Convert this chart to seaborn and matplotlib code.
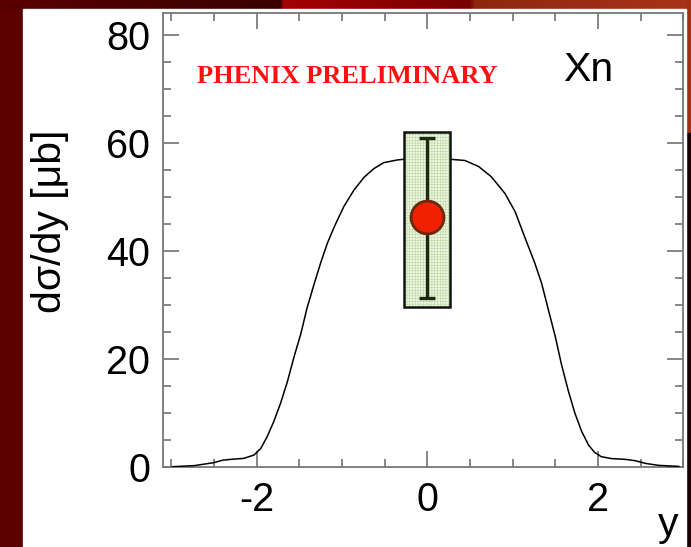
import numpy as np
import pandas as pd
import matplotlib
matplotlib.use("Agg")
import matplotlib.pyplot as plt
from matplotlib.patches import Rectangle
from matplotlib.ticker import MultipleLocator
import seaborn as sns

# Model curve: dsigma/dy versus rapidity y
curve_y = [-2.99, -2.73, -2.50, -2.40, -2.30, -2.15, -2.03, -1.95, -1.875, -1.80,
           -1.72, -1.64, -1.56, -1.48, -1.41, -1.33, -1.25, -1.17, -1.09, -0.98,
           -0.86, -0.74, -0.625, -0.51, -0.35, -0.23, -0.04, 0.05, 0.21, 0.44,
           0.60, 0.75, 0.91, 1.03, 1.14, 1.26, 1.34, 1.42, 1.50, 1.57,
           1.65, 1.73, 1.81, 1.89, 1.96, 2.04, 2.16, 2.32, 2.44, 2.56,
           2.71, 2.95]
curve_val = [0.0, 0.2, 0.75, 1.2, 1.36, 1.54, 2.16, 3.4, 5.6, 8.3,
             11.7, 15.7, 20.4, 24.7, 29.3, 33.6, 37.7, 41.4, 44.4, 48.1,
             51.2, 53.6, 55.2, 56.3, 56.8, 57.0, 57.2, 57.2, 57.0, 56.7,
             55.6, 53.7, 50.6, 47.2, 42.6, 37.7, 33.95, 29.0, 24.1, 19.1,
             14.2, 9.9, 6.5, 4.0, 2.65, 1.85, 1.5, 1.36, 1.1, 0.6,
             0.25, 0.05]

# Measured point at midrapidity
meas_y = [0.0]
meas_val = [46.3]
stat_lo = [31.2]
stat_hi = [60.8]
sys_lo = [29.6]
sys_hi = [61.9]
sys_halfwidth = [0.27]

x_ticks = [-2, 0, 2]
y_ticks = [0, 20, 40, 60, 80]

sns.set_theme(style="ticks")
plt.rcParams["font.family"] = ["Liberation Sans", "DejaVu Sans"]
plt.rcParams["hatch.linewidth"] = 0.35
plt.rcParams["axes.unicode_minus"] = False

W, H = 691, 547
fig = plt.figure(figsize=(W / 100, H / 100), dpi=100)

# Slide-style backdrop
bg = fig.add_axes([0, 0, 1, 1], zorder=-10)
bg.set_xlim(0, W)
bg.set_ylim(H, 0)
bg.axis("off")
bg.add_patch(Rectangle((0, 0), W, H, color="#5e0000"))
grad_x = np.array([0, 280, 283, 300, 460, 468, 475, 691])
grad_c = np.array([[0x5a, 0, 0], [0x3a, 0, 0], [0xa3, 0x02, 0x02], [0xa0, 0x02, 0x02],
                   [0x7a, 0x00, 0x00], [0x7a, 0x00, 0x00], [0x8e, 0x26, 0x10],
                   [0xa8, 0x34, 0x18]]) / 255.0
xs = np.arange(W)
strip = np.stack([np.interp(xs, grad_x, grad_c[:, k]) for k in range(3)], axis=-1)
bg.imshow(strip[None, :, :], extent=(0, W, 10, 0), aspect="auto", zorder=1)
bg.add_patch(Rectangle((686, 0), 5, 133, color="#a03010", zorder=2))
bg.add_patch(Rectangle((686, 133), 5, H - 133, color="#1a0000", zorder=2))
bg.add_patch(Rectangle((23, 9), 663, H - 9, color="white", zorder=3))

ax = fig.add_axes([162.7 / W, 1 - 466.7 / H, 520.6 / W, 454.2 / H])
ax.set_facecolor("white")

df_curve = pd.DataFrame({"y": curve_y, "val": curve_val})
sns.lineplot(data=df_curve, x="y", y="val", color="black", lw=1.1, ax=ax, zorder=3)

# Systematic uncertainty box (hatched fill + outline)
for xc, lo, hi, hw in zip(meas_y, sys_lo, sys_hi, sys_halfwidth):
    ax.add_patch(Rectangle((xc - hw, lo), 2 * hw, hi - lo, facecolor="#eef5e2",
                           edgecolor="#b5d496", hatch="++++++", lw=0, zorder=4))
    ax.add_patch(Rectangle((xc - hw, lo), 2 * hw, hi - lo, facecolor="none",
                           edgecolor="#111111", lw=1.8, zorder=4.5))

yerr = [np.subtract(meas_val, stat_lo), np.subtract(stat_hi, meas_val)]
ax.errorbar(meas_y, meas_val, yerr=yerr, fmt="none", ecolor="#1c2a12",
            elinewidth=2.4, capsize=5.5, capthick=2.4, zorder=5)
sns.scatterplot(x=meas_y, y=meas_val, s=560, color="#f02000",
                edgecolor="#6a2a10", linewidth=2, ax=ax, zorder=6)

ax.set_xlim(-3.1, 3.0)
ax.set_ylim(0, 84.1)
ax.set_xticks(x_ticks)
ax.set_yticks(y_ticks)
ax.xaxis.set_minor_locator(MultipleLocator(0.5))
ax.yaxis.set_minor_locator(MultipleLocator(5))
ax.tick_params(which="both", direction="in", top=True, right=True,
               color="#666666", width=1.1, labelsize=28.5, labelcolor="black")
ax.tick_params(which="major", length=11.5, pad=9)
ax.tick_params(which="minor", length=5.8)
ax.tick_params(axis="x", pad=10)
for sp in ax.spines.values():
    sp.set_color("#777777")
    sp.set_linewidth(1.3)

ax.set_ylabel("dσ/dy [μb]", fontsize=29.5, color="black")
ax.yaxis.label.set(va="center", ha="center", rotation_mode="anchor")
ax.yaxis.set_label_coords(-0.2165, 0.541)
ax.set_xlabel("y", fontsize=29.5, color="black")
ax.xaxis.label.set(va="center", ha="center")
ax.xaxis.set_label_coords(0.9706, -0.128)

ax.text(0.817, 0.873, "Xn", transform=ax.transAxes, fontsize=29.5,
        ha="center", va="center", color="black")
ax.text(0.354, 0.860, "PHENIX PRELIMINARY", transform=ax.transAxes,
        fontsize=19, fontweight="bold", family=["Liberation Serif", "DejaVu Serif"],
        ha="center", va="center", color="#ff1010")

fig.savefig("out.png", dpi=100)
